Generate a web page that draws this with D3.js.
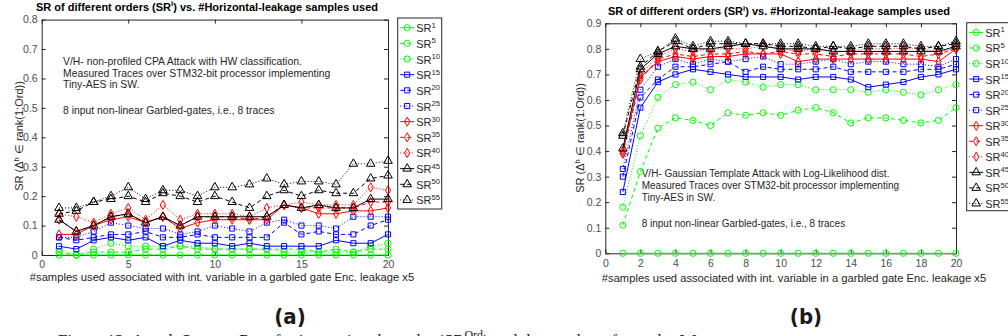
<!DOCTYPE html>
<html>
<head>
<meta charset="utf-8">
<script src="https://cdn.jsdelivr.net/npm/d3@7"></script>
<style>
  body { margin: 0; background: #fff; }
  svg { display: block; font-family: 'Liberation Sans', Arial, Helvetica, sans-serif; }
</style>
</head>
<body>
<svg id="chart" width="1008" height="336"></svg>
<script>
// SR of different orders vs. number of horizontal-leakage samples

// X values (samples used)
const sampleCounts = [1, 2, 3, 4, 5, 6, 7, 8, 9, 10, 11, 12, 13, 14, 15, 16, 17, 18, 19, 20];
// SR orders shown in the legend
const srOrders = ['1', '5', '10', '15', '20', '25', '30', '35', '40', '45', '50', '55'];

// (a) non-profiled CPA attack
const cpaSR1 = [0, 0, 0, 0, 0, 0, 0, 0, 0, 0, 0, 0, 0, 0, 0, 0, 0, 0, 0, 0];
const cpaSR5 = [0.01, 0.0, 0.01, 0.01, 0.01, 0.02, 0.02, 0.03, 0.02, 0.02, 0.02, 0.02, 0.02, 0.02, 0.02, 0.01, 0.02, 0.01, 0.02, 0.02];
const cpaSR10 = [0.02, 0.0, 0.02, 0.04, 0.03, 0.03, 0.03, 0.03, 0.03, 0.02, 0.02, 0.02, 0.02, 0.01, 0.01, 0.01, 0.01, 0.01, 0.03, 0.04];
const cpaSR15 = [0.03, 0.02, 0.05, 0.06, 0.05, 0.06, 0.03, 0.05, 0.04, 0.04, 0.03, 0.04, 0.03, 0.03, 0.03, 0.03, 0.05, 0.04, 0.04, 0.07];
const cpaSR20 = [0.06, 0.05, 0.06, 0.07, 0.07, 0.08, 0.06, 0.06, 0.07, 0.06, 0.06, 0.06, 0.06, 0.11, 0.07, 0.08, 0.07, 0.07, 0.1, 0.12];
const cpaSR25 = [0.06, 0.06, 0.08, 0.11, 0.1, 0.09, 0.09, 0.07, 0.08, 0.1, 0.09, 0.08, 0.11, 0.12, 0.1, 0.1, 0.09, 0.13, 0.13, 0.13];
const cpaSR30 = [0.07, 0.07, 0.1, 0.12, 0.13, 0.11, 0.13, 0.09, 0.11, 0.12, 0.12, 0.12, 0.12, 0.17, 0.16, 0.14, 0.14, 0.15, 0.15, 0.16];
const cpaSR35 = [0.12, 0.08, 0.1, 0.13, 0.14, 0.11, 0.13, 0.1, 0.13, 0.13, 0.13, 0.12, 0.13, 0.17, 0.16, 0.16, 0.16, 0.16, 0.18, 0.18];
const cpaSR40 = [0.14, 0.13, 0.11, 0.14, 0.16, 0.12, 0.17, 0.12, 0.14, 0.14, 0.14, 0.13, 0.16, 0.17, 0.18, 0.17, 0.17, 0.17, 0.23, 0.22];
const cpaSR45 = [0.12, 0.08, 0.1, 0.13, 0.14, 0.11, 0.13, 0.1, 0.13, 0.13, 0.13, 0.13, 0.13, 0.17, 0.16, 0.17, 0.16, 0.16, 0.19, 0.19];
const cpaSR50 = [0.14, 0.15, 0.18, 0.19, 0.2, 0.18, 0.21, 0.2, 0.18, 0.2, 0.18, 0.16, 0.2, 0.22, 0.2, 0.22, 0.21, 0.21, 0.26, 0.27];
const cpaSR55 = [0.16, 0.16, 0.18, 0.2, 0.23, 0.19, 0.22, 0.22, 0.2, 0.23, 0.23, 0.24, 0.26, 0.24, 0.25, 0.25, 0.24, 0.31, 0.31, 0.32];

// (b) Gaussian template attack
const tplSR1 = [0, 0, 0, 0, 0, 0, 0, 0, 0, 0, 0, 0, 0, 0, 0, 0, 0, 0, 0, 0];
const tplSR5 = [0.11, 0.32, 0.49, 0.53, 0.52, 0.5, 0.55, 0.54, 0.55, 0.54, 0.56, 0.57, 0.55, 0.51, 0.53, 0.53, 0.52, 0.51, 0.52, 0.57];
const tplSR10 = [0.18, 0.46, 0.61, 0.66, 0.67, 0.64, 0.68, 0.67, 0.65, 0.66, 0.66, 0.64, 0.64, 0.64, 0.63, 0.64, 0.63, 0.62, 0.64, 0.66];
const tplSR15 = [0.24, 0.57, 0.67, 0.7, 0.72, 0.71, 0.7, 0.69, 0.69, 0.69, 0.68, 0.69, 0.69, 0.68, 0.65, 0.66, 0.67, 0.69, 0.7, 0.72];
const tplSR20 = [0.3, 0.61, 0.68, 0.73, 0.73, 0.74, 0.75, 0.71, 0.73, 0.72, 0.72, 0.72, 0.73, 0.71, 0.71, 0.71, 0.71, 0.72, 0.72, 0.74];
const tplSR25 = [0.33, 0.64, 0.73, 0.76, 0.74, 0.76, 0.75, 0.76, 0.77, 0.74, 0.74, 0.75, 0.76, 0.74, 0.75, 0.75, 0.74, 0.74, 0.73, 0.76];
const tplSR30 = [0.4, 0.69, 0.75, 0.77, 0.76, 0.77, 0.77, 0.78, 0.78, 0.78, 0.75, 0.76, 0.76, 0.76, 0.76, 0.76, 0.76, 0.76, 0.75, 0.8];
const tplSR35 = [0.39, 0.68, 0.76, 0.78, 0.77, 0.78, 0.78, 0.79, 0.78, 0.79, 0.78, 0.78, 0.77, 0.78, 0.78, 0.78, 0.78, 0.77, 0.78, 0.8];
const tplSR40 = [0.39, 0.7, 0.77, 0.8, 0.79, 0.8, 0.8, 0.8, 0.81, 0.8, 0.79, 0.8, 0.79, 0.79, 0.8, 0.8, 0.8, 0.8, 0.79, 0.8];
const tplSR45 = [0.41, 0.72, 0.78, 0.81, 0.8, 0.8, 0.81, 0.82, 0.81, 0.8, 0.8, 0.8, 0.79, 0.79, 0.79, 0.79, 0.79, 0.79, 0.79, 0.81];
const tplSR50 = [0.46, 0.73, 0.79, 0.83, 0.8, 0.82, 0.82, 0.82, 0.82, 0.81, 0.81, 0.8, 0.81, 0.8, 0.81, 0.81, 0.81, 0.8, 0.81, 0.82];
const tplSR55 = [0.47, 0.76, 0.79, 0.84, 0.81, 0.83, 0.83, 0.82, 0.82, 0.82, 0.82, 0.81, 0.81, 0.81, 0.82, 0.82, 0.82, 0.81, 0.81, 0.83];

// Tick values
const cpaXTicks = [0, 5, 10, 15, 20];
const cpaYTicks = [0, 0.1, 0.2, 0.3, 0.4, 0.5, 0.6, 0.7, 0.8];
const tplXTicks = [0, 2, 4, 6, 8, 10, 12, 14, 16, 18, 20];
const tplYTicks = [0, 0.1, 0.2, 0.3, 0.4, 0.5, 0.6, 0.7, 0.8, 0.9];

// Annotation texts
const cpaNotes = [
  'V/H- non-profiled CPA Attack with HW classification.',
  'Measured Traces over STM32-bit processor implementing',
  'Tiny-AES in SW.',
  '8 input non-linear Garbled-gates, i.e., 8 traces',
];
const tplNotes = [
  'V/H- Gaussian Template Attack with Log-Likelihood dist.',
  'Measured Traces over STM32-bit processor implementing',
  'Tiny-AES in SW.',
  '8 input non-linear Garbled-gates, i.e., 8 traces',
];

// Line styles (MATLAB g/b/r/k with - -- :)
const lineColors = ['#00ff00', '#00ff00', '#00ff00', '#0000ff', '#0000ff', '#0000ff', '#ff0000', '#ff0000', '#ff0000', '#000000', '#000000', '#000000'];
const lineDashes = [null, '4,3', '1,2', null, '4,3', '1,2', null, '4,3', '1,2', null, '4,3', '1,2'];
const markerTypes = [
  d3.symbolCircle, d3.symbolCircle, d3.symbolCircle,
  d3.symbolSquare, d3.symbolSquare, d3.symbolSquare,
  d3.symbolDiamond, d3.symbolDiamond, d3.symbolDiamond,
  d3.symbolTriangle, d3.symbolTriangle, d3.symbolTriangle,
];
const markerSizes = [30, 30, 30, 26, 26, 26, 24, 24, 24, 32, 32, 32];

const axisColor = '#262626';
const svg = d3.select('#chart');

// Text with one superscript part
function SupText(sel, before, sup, after, size) {
  sel.append('tspan').text(before);
  sel.append('tspan').attr('dy', -size * 0.4).style('font-size', `${size * 0.7}px`).text(sup);
  if (after) sel.append('tspan').attr('dy', size * 0.4).text(after);
}

function DrawPanel(cfg) {
  const g = svg.append('g');
  const x = d3.scaleLinear().domain([0, 20]).range([cfg.left, cfg.right]);
  const y = d3.scaleLinear().domain([0, cfg.yMax]).range([cfg.bottom, cfg.top]);

  // Box axes with inward ticks
  g.append('g')
    .attr('transform', `translate(0,${cfg.bottom})`)
    .call(d3.axisBottom(x).tickValues(cfg.xTicks).tickSizeInner(-4).tickSizeOuter(0).tickPadding(6).tickFormat(d3.format('d')));
  g.append('g')
    .attr('transform', `translate(0,${cfg.top})`)
    .call(d3.axisTop(x).tickValues(cfg.xTicks).tickSizeInner(-4).tickSizeOuter(0).tickFormat(''));
  g.append('g')
    .attr('transform', `translate(${cfg.left},0)`)
    .call(d3.axisLeft(y).tickValues(cfg.yTicks).tickSizeInner(-4).tickSizeOuter(0).tickPadding(4).tickFormat(d3.format('.1~f')));
  g.append('g')
    .attr('transform', `translate(${cfg.right},0)`)
    .call(d3.axisRight(y).tickValues(cfg.yTicks).tickSizeInner(-4).tickSizeOuter(0).tickFormat(''));
  g.selectAll('.domain').attr('stroke', axisColor);
  g.selectAll('.tick line').attr('stroke', axisColor);
  g.selectAll('.tick text').attr('fill', '#4d4d4d').style('font-size', '10.5px').style('font-family', 'inherit');

  // Annotation
  cfg.notes.forEach((line, i) => {
    g.append('text')
      .attr('x', cfg.noteX)
      .attr('y', cfg.noteY[i])
      .style('font-size', `${cfg.noteSize}px`)
      .attr('fill', '#262626')
      .text(line);
  });

  // Series lines and markers
  cfg.series.forEach((values, i) => {
    const pts = values.map((v, j) => [sampleCounts[j], v]);
    g.append('path')
      .datum(pts)
      .attr('fill', 'none')
      .attr('stroke', lineColors[i])
      .attr('stroke-width', 1)
      .attr('stroke-dasharray', lineDashes[i])
      .attr('d', d3.line().x((d) => x(d[0])).y((d) => y(d[1])));
    g.selectAll(null)
      .data(pts)
      .enter()
      .append('path')
      .attr('transform', (d) => `translate(${x(d[0])},${y(d[1])})`)
      .attr('d', d3.symbol().type(markerTypes[i]).size(markerSizes[i]))
      .attr('fill', 'none')
      .attr('stroke', lineColors[i])
      .attr('stroke-width', 1);
  });

  // Title
  const title = g.append('text')
    .attr('x', cfg.titleX)
    .attr('y', cfg.titleY)
    .attr('text-anchor', 'middle')
    .style('font-size', '11px')
    .style('font-weight', 'bold')
    .attr('fill', '#000');
  SupText(title, 'SR of different orders (SR', 'i', ') vs. #Horizontal-leakage samples used', 11);

  // X label
  g.append('text')
    .attr('x', cfg.xLabelX)
    .attr('y', cfg.xLabelY)
    .attr('text-anchor', 'middle')
    .style('font-size', '11.2px')
    .attr('fill', '#262626')
    .text('#samples used associated with int. variable in a garbled gate Enc. leakage x5');

  // Y label
  const ylab = g.append('text')
    .attr('transform', `translate(${cfg.yLabelX},${cfg.yLabelY}) rotate(-90)`)
    .attr('text-anchor', 'middle')
    .style('font-size', '11px')
    .attr('fill', '#262626');
  SupText(ylab, 'SR (\u0394', 'h', ' \u2208 rank(1:Ord))', 11);

  // Legend
  const leg = g.append('g').attr('transform', `translate(${cfg.legendX},${cfg.legendY})`);
  leg.append('rect')
    .attr('width', 44)
    .attr('height', cfg.legendH)
    .attr('fill', '#fff')
    .attr('stroke', axisColor)
    .attr('stroke-width', 1);
  srOrders.forEach((ord, i) => {
    const cy = 9.7 + i * cfg.legendStep;
    leg.append('line')
      .attr('x1', 2.5)
      .attr('x2', 16.5)
      .attr('y1', cy)
      .attr('y2', cy)
      .attr('stroke', lineColors[i])
      .attr('stroke-dasharray', lineDashes[i]);
    leg.append('path')
      .attr('transform', `translate(9.5,${cy})`)
      .attr('d', d3.symbol().type(markerTypes[i]).size(markerSizes[i]))
      .attr('fill', 'none')
      .attr('stroke', lineColors[i]);
    const t = leg.append('text')
      .attr('x', 18.5)
      .attr('y', cy + 4.5)
      .style('font-size', '11px')
      .attr('fill', '#262626');
    SupText(t, 'SR', ord, null, 11);
  });

  // Sub figure label
  svg.append('text')
    .attr('x', cfg.tagX)
    .attr('y', 324)
    .attr('text-anchor', 'middle')
    .style('font-family', "'DejaVu Sans', sans-serif")
    .style('font-stretch', 'condensed')
    .style('font-weight', 'bold')
    .style('font-size', '22px')
    .attr('fill', '#1a1a1a')
    .text(cfg.tag);
}

DrawPanel({
  series: [cpaSR1, cpaSR5, cpaSR10, cpaSR15, cpaSR20, cpaSR25, cpaSR30, cpaSR35, cpaSR40, cpaSR45, cpaSR50, cpaSR55],
  left: 41.7,
  right: 388,
  top: 19.6,
  bottom: 255,
  yMax: 0.8,
  xTicks: cpaXTicks,
  yTicks: cpaYTicks,
  notes: cpaNotes,
  noteX: 63,
  noteY: [65, 77, 88, 114],
  noteSize: 10.4,
  titleX: 207,
  titleY: 10.5,
  xLabelX: 222,
  xLabelY: 281,
  yLabelX: 23,
  yLabelY: 136,
  legendX: 397.7,
  legendY: 18,
  legendH: 191,
  legendStep: 15.66,
  tagX: 290,
  tag: '(a)',
});

DrawPanel({
  series: [tplSR1, tplSR5, tplSR10, tplSR15, tplSR20, tplSR25, tplSR30, tplSR35, tplSR40, tplSR45, tplSR50, tplSR55],
  left: 605.3,
  right: 956,
  top: 23.3,
  bottom: 253.3,
  yMax: 0.9,
  xTicks: tplXTicks,
  yTicks: tplYTicks,
  notes: tplNotes,
  noteX: 641.7,
  noteY: [176.5, 189, 201, 226.5],
  noteSize: 10,
  titleX: 779,
  titleY: 15,
  xLabelX: 794,
  xLabelY: 282,
  yLabelX: 584,
  yLabelY: 138,
  legendX: 966.7,
  legendY: 22.7,
  legendH: 188,
  legendStep: 15.55,
  tagX: 806,
  tag: '(b)',
});

// Caption (cut off at the bottom edge, as in the source figure)
const caption = svg.append('text')
  .attr('x', 58)
  .attr('y', 346)
  .style('font-family', "'Liberation Serif', serif")
  .style('font-size', '17px')
  .attr('fill', '#1a1a1a');
SupText(caption, 'Figure 12: Attack Success Rate for increasing the order (SR', 'Ord', ') and the number of samples W', 17);
</script>
</body>
</html>
